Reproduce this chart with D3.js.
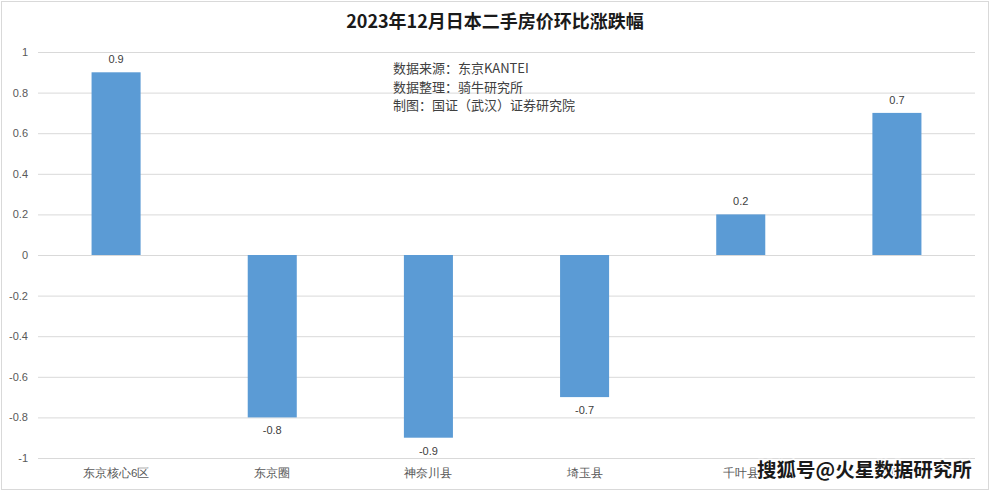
<!DOCTYPE html>
<html><head><meta charset="utf-8">
<script src="https://cdn.jsdelivr.net/npm/d3@7/dist/d3.min.js"></script>
<style>
body{margin:0;background:#fff;}
svg{display:block;font-family:"Noto Sans CJK SC","Noto Sans",sans-serif;}
</style></head><body>
<svg id="c" width="991" height="492"></svg>
<script>
const categories = ["东京核心6区","东京圈","神奈川县","埼玉县","千叶县","大阪府"];
const values = [0.9, -0.8, -0.9, -0.7, 0.2, 0.7];
const yTicks = [1,0.8,0.6,0.4,0.2,0,-0.2,-0.4,-0.6,-0.8,-1];
const titleText = "2023年12月日本二手房价环比涨跌幅";
const notes = ["数据来源：东京KANTEI","数据整理：骑牛研究所","制图：国证（武汉）证券研究院"];
const watermark = "搜狐号@火星数据研究所";

(function(){
const svg = d3.select("#c");
svg.append("rect").attr("x",1.5).attr("y",1.5).attr("width",987).attr("height",488)
  .attr("fill","#fff").attr("stroke","#d9d9d9");

const pL=38,pR=975,pT=52,pB=458;
const x = d3.scaleBand().domain(categories).range([pL,pR]).paddingInner(0.686).paddingOuter(0.343);
const y = d3.scaleLinear().domain([-1,1]).range([pB,pT]);

const yAxis = d3.axisLeft(y).tickValues(yTicks).tickSize(-(pR-pL)).tickPadding(10).tickFormat(d=>String(d));
const gy = svg.append("g").attr("transform",`translate(${pL},0)`).call(yAxis);
gy.select(".domain").remove();
gy.selectAll(".tick line").attr("stroke","#d9d9d9");
gy.selectAll(".tick text").attr("fill","#595959").attr("font-size",11).attr("font-family","Liberation Sans, sans-serif");

svg.append("g").selectAll("rect").data(values).join("rect")
  .attr("x",(d,i)=>x(categories[i]))
  .attr("width",x.bandwidth())
  .attr("y",d=>y(Math.max(0,d)))
  .attr("height",d=>Math.abs(y(d)-y(0)))
  .attr("fill","#5b9bd5");

svg.append("g").selectAll("text").data(values).join("text")
  .attr("x",(d,i)=>x(categories[i])+x.bandwidth()/2)
  .attr("y",d=>d>=0? y(d)-9 : y(d)+17)
  .attr("text-anchor","middle").attr("font-size",11).attr("fill","#404040")
  .attr("font-family","Liberation Sans, sans-serif")
  .text(d=>String(d));

const xAxis = d3.axisBottom(x).tickSize(0).tickPadding(11);
const gx = svg.append("g").attr("transform",`translate(0,${pB})`).call(xAxis);
gx.select(".domain").remove();
gx.selectAll(".tick text").attr("fill","#595959").attr("font-size",11.5);

svg.append("text").attr("x",495).attr("y",28).attr("text-anchor","middle")
  .attr("font-size",18).attr("font-weight","bold").attr("fill","#1a1a1a").text(titleText);

svg.append("g").selectAll("text").data(notes).join("text")
  .attr("x",393).attr("y",(d,i)=>73+i*18.5)
  .attr("font-size",13).attr("fill","#404040").text(d=>d);

svg.append("text").attr("x",757).attr("y",477)
  .attr("font-size",19.5).attr("font-weight","bold").attr("fill","#1a1a1a")
  .attr("stroke","#fff").attr("stroke-width",3).attr("paint-order","stroke")
  .text(watermark);
})();
</script>
</body></html>
